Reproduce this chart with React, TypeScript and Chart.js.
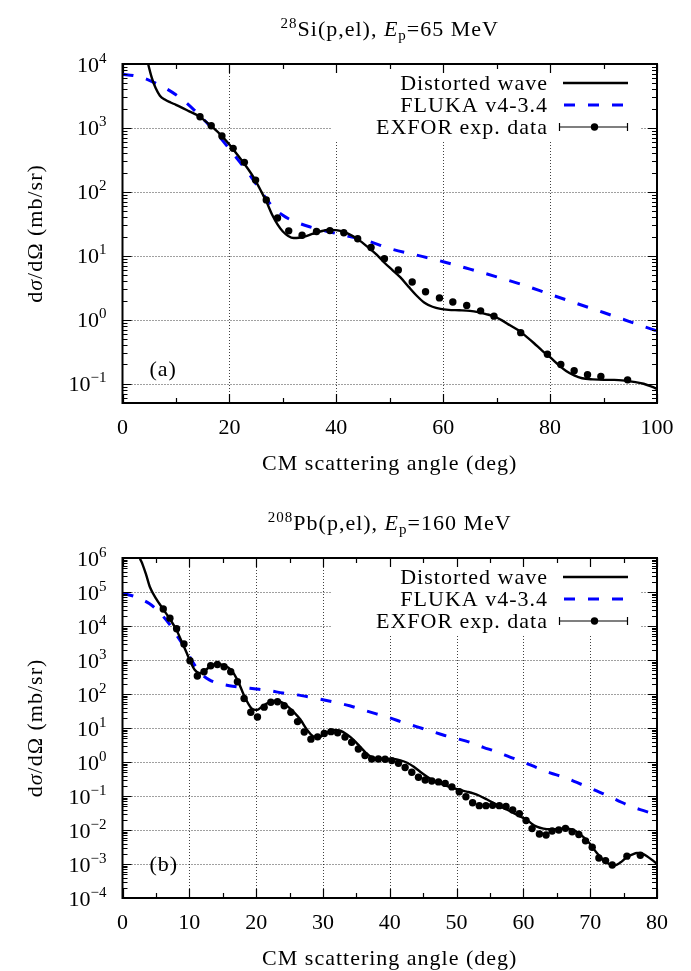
import React, { useEffect, useRef } from 'react';
import { Chart, registerables } from 'chart.js';

Chart.register(...registerables);

// ---------------- Panel (a): 28Si(p,el), Ep = 65 MeV ----------------
const siDwAngle = [4.0, 4.8, 5.5, 6.2, 7.0, 8.0, 9.0, 10.0, 11.0, 12.5, 14.0, 15.5, 17.0, 18.5, 20.0, 21.5, 23.0, 24.5, 26.0, 27.0, 28.0, 29.0, 30.0, 31.0, 32.0, 33.0, 34.0, 35.5, 37.0, 38.5, 40.0, 41.5, 43.0, 44.5, 46.0, 47.5, 49.0, 50.5, 52.0, 53.5, 55.0, 56.5, 58.0, 59.5, 61.0, 63.0, 65.0, 66.5, 68.0, 69.5, 71.0, 72.5, 74.0, 75.5, 77.0, 78.5, 80.0, 81.5, 83.0, 84.5, 86.0, 88.0, 90.0, 92.0, 94.0, 96.0, 97.5, 99.0, 100.0];
const siDwValue = [20000, 10000, 6000, 4200, 3200, 2750, 2500, 2300, 2100, 1820, 1580, 1280, 1000, 760, 550, 380, 260, 170, 100, 68, 44, 31, 24, 20.5, 19, 19.2, 20, 22, 24, 25.5, 25.2, 23.5, 20.5, 17, 13.5, 10.5, 7.8, 6.0, 4.6, 3.3, 2.4, 1.85, 1.6, 1.48, 1.43, 1.41, 1.38, 1.32, 1.23, 1.13, 0.98, 0.82, 0.69, 0.55, 0.43, 0.33, 0.26, 0.2, 0.158, 0.135, 0.122, 0.117, 0.115, 0.115, 0.112, 0.106, 0.1, 0.09, 0.083];

const siFlukaAngle = [0, 2, 4, 6, 8, 10, 12, 14, 16, 18, 20, 22, 24, 26, 28, 30, 32, 35, 38, 42, 46, 50, 55, 60, 65, 70, 75, 80, 85, 90, 95, 100];
const siFlukaValue = [6900, 6600, 6000, 5100, 4200, 3300, 2450, 1700, 1150, 750, 470, 290, 175, 100, 60, 43, 35, 28.5, 24.5, 20.5, 17, 13, 10.3, 8.1, 6.2, 4.7, 3.5, 2.5, 1.8, 1.3, 0.93, 0.67];

const siExpAngle = [14.5, 16.6, 18.6, 20.7, 22.8, 24.9, 26.9, 29.0, 31.1, 33.6, 36.3, 38.8, 41.4, 44.0, 46.5, 49.0, 51.6, 54.2, 56.7, 59.3, 61.8, 64.4, 67.0, 69.5, 74.5, 79.5, 82.0, 84.5, 87.0, 89.5, 94.5];
const siExpValue = [1500, 1080, 750, 480, 290, 153, 75, 39, 24.6, 21, 24, 24.8, 23, 18.5, 13.5, 9.0, 6.0, 3.9, 2.75, 2.2, 1.9, 1.68, 1.38, 1.14, 0.63, 0.29, 0.20, 0.16, 0.138, 0.13, 0.115];

const siXMajor = [0, 20, 40, 60, 80, 100];
const siXMinor = [10, 30, 50, 70, 90];
const siYDecades = [-2, -1, 0, 1, 2, 3, 4];

// ---------------- Panel (b): 208Pb(p,el), Ep = 160 MeV ----------------
const pbDwAngle = [2.0, 2.6, 3.0, 3.5, 4.1, 5.0, 6.1, 7.1, 8.1, 9.0, 9.5, 10.1, 10.8, 11.6, 12.5, 13.4, 14.3, 15.2, 16.2, 17.2, 18.2, 19.3, 20.1, 21.0, 21.8, 23.0, 24.0, 24.8, 25.6, 26.6, 27.6, 28.6, 29.4, 30.4, 31.6, 32.6, 33.6, 34.5, 35.5, 36.5, 37.3, 38.6, 39.6, 40.6, 41.6, 42.6, 43.6, 44.6, 45.6, 46.6, 47.5, 48.5, 49.5, 50.5, 51.5, 52.5, 53.5, 54.5, 55.5, 56.5, 57.5, 58.5, 59.5, 60.5, 61.3, 62.0, 63.0, 64.0, 65.5, 66.5, 67.3, 68.0, 69.0, 69.8, 71.0, 72.0, 72.8, 73.5, 74.5, 75.5, 76.3, 77.0, 77.8, 78.5, 79.3, 80.0];
const pbDwValue = [2.5e6, 1e6, 6.5e5, 3.4e5, 1.4e5, 6.5e4, 3.1e4, 1.6e4, 7500, 3000, 1800, 950, 520, 410, 520, 700, 760, 690, 520, 260, 90, 38, 34, 44, 55, 63, 55, 42, 30, 18, 9, 5.6, 5.3, 7.0, 8.7, 8.3, 6.4, 4.6, 2.9, 1.8, 1.4, 1.23, 1.23, 1.22, 1.12, 0.95, 0.72, 0.51, 0.37, 0.28, 0.23, 0.2, 0.17, 0.15, 0.135, 0.12, 0.1, 0.08, 0.063, 0.049, 0.04, 0.032, 0.025, 0.02, 0.015, 0.0126, 0.011, 0.0105, 0.0107, 0.0112, 0.0102, 0.0089, 0.0062, 0.0043, 0.0021, 0.0013, 0.001, 0.00089, 0.0011, 0.0016, 0.0019, 0.0021, 0.002, 0.0017, 0.0013, 0.001];

const pbFlukaAngle = [0, 1, 2, 3, 4, 5, 6, 7, 8, 9, 10, 11, 12, 13, 14, 16, 18, 20, 22, 24, 26, 28, 30, 32, 34, 36, 38, 40, 42, 44, 46, 48, 50, 52, 54, 56, 58, 60, 62, 64, 66, 68, 70, 72, 74, 76, 78, 80];
const pbFlukaValue = [87000, 82000, 72000, 59000, 46000, 32000, 20000, 11500, 5800, 2900, 1300, 620, 360, 260, 215, 175, 155, 140, 125, 107, 95, 81, 68, 56, 45, 34, 26, 20, 14.5, 11, 8.3, 6.2, 4.9, 3.8, 2.7, 2.0, 1.4, 1.0, 0.68, 0.48, 0.36, 0.25, 0.17, 0.115, 0.076, 0.05, 0.037, 0.028];

const pbExpAngle = [6.1, 7.1, 8.1, 9.2, 10.1, 11.2, 12.2, 13.2, 14.2, 15.2, 16.2, 17.2, 18.2, 19.2, 20.2, 21.2, 22.2, 23.2, 24.2, 25.2, 26.2, 27.2, 28.2, 29.2, 30.2, 31.2, 32.2, 33.3, 34.3, 35.3, 36.3, 37.3, 38.3, 39.3, 40.3, 41.3, 42.3, 43.3, 44.3, 45.3, 46.3, 47.3, 48.3, 49.3, 50.4, 51.4, 52.4, 53.4, 54.4, 55.4, 56.4, 57.4, 58.4, 59.4, 60.4, 61.3, 62.4, 63.4, 64.3, 65.3, 66.3, 67.3, 68.3, 69.3, 70.3, 71.3, 72.3, 73.3, 75.5, 77.5];
const pbExpValue = [31600, 17000, 8300, 2950, 950, 340, 450, 680, 740, 630, 450, 230, 74, 29, 21, 41, 57, 59, 45, 29, 15.4, 7.6, 4.7, 5.5, 6.9, 7.8, 7.2, 5.4, 3.8, 2.4, 1.55, 1.23, 1.22, 1.2, 1.1, 0.92, 0.69, 0.5, 0.355, 0.295, 0.275, 0.26, 0.235, 0.185, 0.134, 0.095, 0.063, 0.052, 0.052, 0.053, 0.052, 0.049, 0.039, 0.030, 0.019, 0.011, 0.0076, 0.0071, 0.0093, 0.010, 0.0112, 0.0089, 0.0074, 0.0048, 0.0031, 0.0015, 0.00126, 0.00093, 0.0017, 0.0018];

const pbXMajor = [0, 10, 20, 30, 40, 50, 60, 70, 80];
const pbXMinor = [5, 15, 25, 35, 45, 55, 65, 75];
const pbYDecades = [-4, -3, -2, -1, 0, 1, 2, 3, 4, 5, 6];

const legendLabels = ['Distorted wave', 'FLUKA v4-3.4', 'EXFOR exp. data'];
const xAxisTitle = 'CM scattering angle (deg)';

// ---------------- drawing helpers ----------------
const W = 691;
const SERIF = '"Liberation Serif", "Times New Roman", serif';
const BASE = 22;
const SMALL = 15;
const BLUE = '#0000ff';
const DASH = [11, 13];

type Part = { t: string; size?: number; italic?: boolean; dy?: number };

function setFont(ctx: CanvasRenderingContext2D, p: Part) {
  ctx.font = `${p.italic ? 'italic ' : ''}${p.size ?? BASE}px ${SERIF}`;
}

function drawRich(ctx: CanvasRenderingContext2D, parts: Part[], x: number, y: number, align: 'left' | 'center' | 'right', spacing = 0) {
  ctx.save();
  (ctx as any).letterSpacing = spacing + 'px';
  ctx.textAlign = 'left';
  ctx.textBaseline = 'alphabetic';
  let total = 0;
  const widths = parts.map((p) => {
    setFont(ctx, p);
    const w = ctx.measureText(p.t).width;
    total += w;
    return w;
  });
  let cx = align === 'left' ? x : align === 'center' ? x - total / 2 : x - total;
  parts.forEach((p, i) => {
    setFont(ctx, p);
    ctx.fillText(p.t, cx, y + (p.dy ?? 0));
    cx += widths[i];
  });
  ctx.restore();
}

interface PanelCfg {
  id: string;
  height: number;
  top: number;
  bottom: number;
  left: number;
  right: number;
  xMin: number;
  xMax: number;
  yMin: number;
  yMax: number;
  xMajor: number[];
  xMinor: number[];
  yDecades: number[];
  title: Part[];
  tag: string;
  dwX: number[];
  dwY: number[];
  flX: number[];
  flY: number[];
  exX: number[];
  exY: number[];
}

const PANELS: PanelCfg[] = [
  {
    id: 'si',
    height: 490,
    top: 64,
    bottom: 403,
    left: 122.5,
    right: 657,
    xMin: 0,
    xMax: 100,
    yMin: 0.05,
    yMax: 1e4,
    xMajor: siXMajor,
    xMinor: siXMinor,
    yDecades: siYDecades,
    title: [
      { t: '28', size: SMALL, dy: -8 },
      { t: 'Si(p,el), ' },
      { t: 'E', italic: true },
      { t: 'p', size: SMALL, dy: 4 },
      { t: '=65 MeV' },
    ],
    tag: '(a)',
    dwX: siDwAngle,
    dwY: siDwValue,
    flX: siFlukaAngle,
    flY: siFlukaValue,
    exX: siExpAngle,
    exY: siExpValue,
  },
  {
    id: 'pb',
    height: 481,
    top: 68,
    bottom: 408,
    left: 122.5,
    right: 657,
    xMin: 0,
    xMax: 80,
    yMin: 1e-4,
    yMax: 1e6,
    xMajor: pbXMajor,
    xMinor: pbXMinor,
    yDecades: pbYDecades,
    title: [
      { t: '208', size: SMALL, dy: -8 },
      { t: 'Pb(p,el), ' },
      { t: 'E', italic: true },
      { t: 'p', size: SMALL, dy: 4 },
      { t: '=160 MeV' },
    ],
    tag: '(b)',
    dwX: pbDwAngle,
    dwY: pbDwValue,
    flX: pbFlukaAngle,
    flY: pbFlukaValue,
    exX: pbExpAngle,
    exY: pbExpValue,
  },
];

function decorPlugin(p: PanelCfg) {
  const inY = (v: number) => v >= p.yMin * 0.999 && v <= p.yMax * 1.001;
  return {
    id: 'decor',
    beforeDatasetsDraw(chart: any) {
      const { ctx, chartArea: a } = chart;
      const xs = chart.scales.x;
      const ys = chart.scales.y;
      ctx.save();
      ctx.strokeStyle = 'rgba(0,0,0,0.75)';
      ctx.lineWidth = 1;
      ctx.setLineDash([1, 2]);
      ctx.beginPath();
      for (const v of p.xMajor) {
        if (v <= p.xMin || v >= p.xMax) continue;
        const x = Math.round(xs.getPixelForValue(v)) + 0.5;
        ctx.moveTo(x, a.top);
        ctx.lineTo(x, a.bottom);
      }
      for (const d of p.yDecades) {
        const v = Math.pow(10, d);
        if (v <= p.yMin * 1.001 || v >= p.yMax * 0.999) continue;
        const y = Math.round(ys.getPixelForValue(v)) + 0.5;
        ctx.moveTo(a.left, y);
        ctx.lineTo(a.right, y);
      }
      ctx.stroke();
      ctx.setLineDash([]);
      // opaque key box
      ctx.fillStyle = '#ffffff';
      ctx.fillRect(a.right - 325, a.top, 309, 77);
      ctx.restore();
    },
    afterDatasetsDraw(chart: any) {
      const { ctx, chartArea: a } = chart;
      const xs = chart.scales.x;
      const ys = chart.scales.y;
      ctx.save();
      // tick marks (inside, mirrored)
      ctx.strokeStyle = '#000';
      ctx.lineWidth = 1.2;
      ctx.beginPath();
      const xTick = (v: number, len: number) => {
        const x = Math.round(xs.getPixelForValue(v)) + 0.5;
        ctx.moveTo(x, a.bottom);
        ctx.lineTo(x, a.bottom - len);
        ctx.moveTo(x, a.top);
        ctx.lineTo(x, a.top + len);
      };
      const yTick = (v: number, len: number) => {
        const y = Math.round(ys.getPixelForValue(v)) + 0.5;
        ctx.moveTo(a.left, y);
        ctx.lineTo(a.left + len, y);
        ctx.moveTo(a.right, y);
        ctx.lineTo(a.right - len, y);
      };
      p.xMajor.forEach((v) => xTick(v, 9));
      p.xMinor.forEach((v) => xTick(v, 5));
      for (const d of p.yDecades) {
        const v = Math.pow(10, d);
        if (inY(v)) yTick(v, 9);
        for (let k = 2; k <= 9; k++) {
          const m = k * v;
          if (inY(m)) yTick(m, 5);
        }
      }
      ctx.stroke();
      // frame
      ctx.lineWidth = 2;
      ctx.strokeRect(a.left, a.top, a.right - a.left, a.bottom - a.top);

      ctx.fillStyle = '#000';
      // y tick labels
      for (const d of p.yDecades) {
        const v = Math.pow(10, d);
        if (!inY(v)) continue;
        const y = ys.getPixelForValue(v);
        const e = d < 0 ? '\u2212' + Math.abs(d) : String(d);
        drawRich(ctx, [{ t: '10' }, { t: e, size: SMALL, dy: -9 }], a.left - 16, y + 7.5, 'right');
      }
      // x tick labels
      for (const v of p.xMajor) {
        const x = xs.getPixelForValue(v);
        drawRich(ctx, [{ t: String(v) }], x, a.bottom + 31, 'center');
      }
      const cx = (a.left + a.right) / 2;
      // x axis title
      drawRich(ctx, [{ t: xAxisTitle }], cx, a.bottom + 67, 'center', 1);
      // panel title
      drawRich(ctx, p.title, cx, a.top - 28, 'center', 1);
      // y axis title (rotated)
      ctx.save();
      ctx.translate(42, (a.top + a.bottom) / 2);
      ctx.rotate(-Math.PI / 2);
      drawRich(
        ctx,
        [{ t: 'd' }, { t: '\u03c3', italic: true }, { t: '/d\u03a9 (mb/sr)' }],
        0,
        0,
        'center',
        1
      );
      ctx.restore();
      // panel tag
      drawRich(ctx, [{ t: p.tag }], a.left + 27, a.bottom - 27, 'left', 1);

      // key
      const textRight = a.right - 109;
      const s0 = a.right - 94;
      const s1 = a.right - 29;
      legendLabels.forEach((lab, i) => {
        const yc = a.top + 19 + i * 22;
        drawRich(ctx, [{ t: lab }], textRight, yc + 7, 'right', 1);
        ctx.beginPath();
        if (i === 0) {
          ctx.strokeStyle = '#000';
          ctx.lineWidth = 2.4;
          ctx.setLineDash([]);
          ctx.moveTo(s0, yc);
          ctx.lineTo(s1, yc);
          ctx.stroke();
        } else if (i === 1) {
          ctx.strokeStyle = BLUE;
          ctx.lineWidth = 3;
          ctx.setLineDash(DASH);
          ctx.moveTo(s0 + 1, yc);
          ctx.lineTo(s1, yc);
          ctx.stroke();
          ctx.setLineDash([]);
        } else {
          ctx.strokeStyle = '#000';
          ctx.lineWidth = 1.2;
          const e0 = s0 - 4;
          ctx.moveTo(e0, yc);
          ctx.lineTo(s1, yc);
          ctx.moveTo(e0 + 0.5, yc - 4);
          ctx.lineTo(e0 + 0.5, yc + 4);
          ctx.moveTo(s1 - 0.5, yc - 4);
          ctx.lineTo(s1 - 0.5, yc + 4);
          ctx.stroke();
          ctx.beginPath();
          ctx.fillStyle = '#000';
          ctx.arc((e0 + s1) / 2 + 1, yc, 3.7, 0, Math.PI * 2);
          ctx.fill();
        }
      });
      ctx.restore();
    },
  };
}

function pts(xs: number[], ys: number[]) {
  return xs.map((x, i) => ({ x, y: ys[i] }));
}

function buildConfig(p: PanelCfg): any {
  return {
    type: 'line',
    data: {
      datasets: [
        {
          label: legendLabels[0],
          data: pts(p.dwX, p.dwY),
          borderColor: '#000',
          borderWidth: 2.4,
          pointRadius: 0,
          cubicInterpolationMode: 'monotone',
          fill: false,
          order: 1,
        },
        {
          label: legendLabels[1],
          data: pts(p.flX, p.flY),
          borderColor: BLUE,
          borderWidth: 3,
          borderDash: DASH,
          pointRadius: 0,
          cubicInterpolationMode: 'monotone',
          fill: false,
          order: 2,
        },
        {
          label: legendLabels[2],
          data: pts(p.exX, p.exY),
          showLine: false,
          pointRadius: 3.7,
          pointBackgroundColor: '#000',
          pointBorderColor: '#000',
          pointBorderWidth: 0,
          order: 0,
        },
      ],
    },
    options: {
      responsive: false,
      animation: false,
      devicePixelRatio: 1,
      events: [],
      layout: {
        padding: {
          left: p.left,
          right: W - p.right,
          top: p.top,
          bottom: p.height - p.bottom,
        },
      },
      scales: {
        x: { type: 'linear', min: p.xMin, max: p.xMax, display: false },
        y: { type: 'logarithmic', min: p.yMin, max: p.yMax, display: false },
      },
      plugins: {
        legend: { display: false },
        title: { display: false },
        tooltip: { enabled: false },
      },
    },
    plugins: [decorPlugin(p)],
  };
}

function PanelChart({ cfg }: { cfg: PanelCfg }) {
  const ref = useRef<HTMLCanvasElement>(null);
  useEffect(() => {
    const chart = new Chart(ref.current as HTMLCanvasElement, buildConfig(cfg));
    return () => chart.destroy();
  }, [cfg]);
  return (
    <canvas
      ref={ref}
      width={W}
      height={cfg.height}
      style={{ display: 'block', width: W, height: cfg.height }}
    />
  );
}

export default function App() {
  return (
    <div style={{ position: 'absolute', left: 0, top: 0, width: W, background: '#fff' }}>
      {PANELS.map((p) => (
        <PanelChart key={p.id} cfg={p} />
      ))}
    </div>
  );
}
